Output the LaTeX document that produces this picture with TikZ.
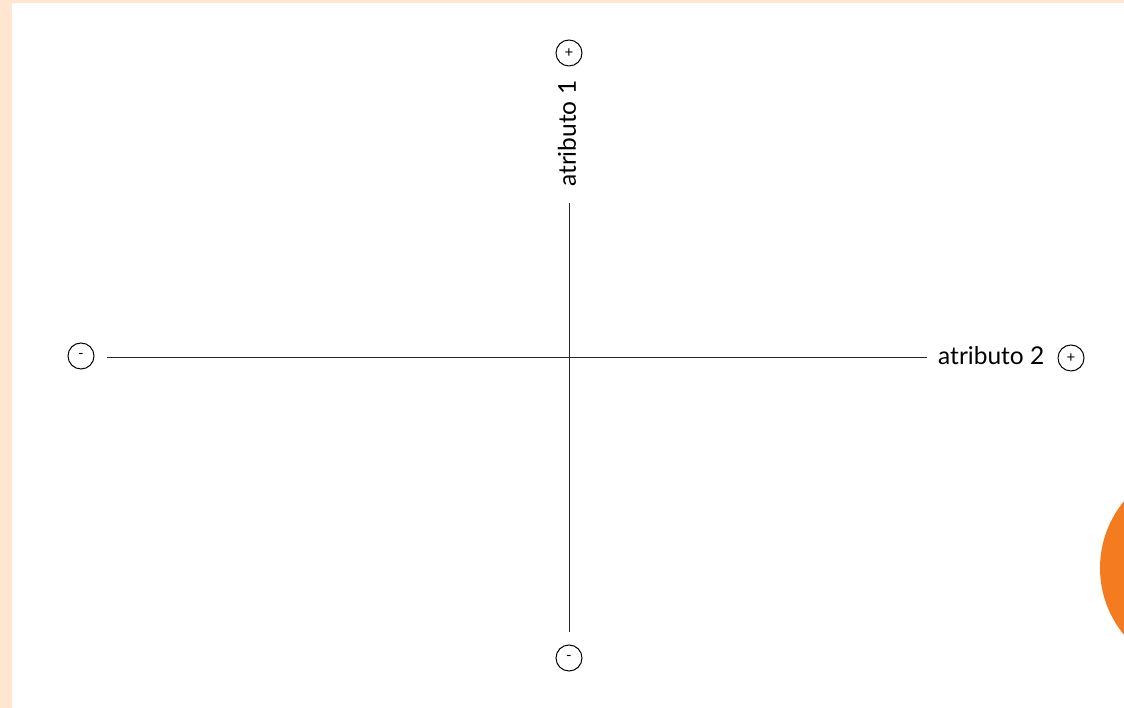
\documentclass[tikz,border=0pt]{standalone}
\usepackage{fontspec}
\setmainfont{Lato}
\definecolor{peach}{HTML}{FFE6D0}
\definecolor{orng}{HTML}{F47B20}
\begin{document}
\begin{tikzpicture}[x=1pt,y=1pt,
  axis/.style={line width=1pt, black!85},
  sign/.style={circle, draw, line width=1pt, minimum size=26pt, inner sep=0pt, font=\fontsize{15}{15}\selectfont},
  lbl/.style={font=\fontsize{24.5}{24.5}\selectfont, inner sep=0pt}]
\useasboundingbox (0,0) rectangle (1124,708);
\fill[white] (0,0) rectangle (1124,708);
\fill[peach] (0,0) rectangle (12,708);
\fill[peach] (0,705) rectangle (1124,708);
\fill[orng] (1205,140) circle (105);
\coordinate (L) at (107,350);
\coordinate (R) at (927,350);
\coordinate (T) at (569,505);
\coordinate (B) at (569,76);
\draw[axis] (L) -- (R);
\draw[axis] (T) -- (B);
\node[sign] (sl) at (81,352) {-};
\node[sign] (sr) at (1071,350) {+};
\node[sign] (st) at (569,655) {+};
\node[sign] (sb) at (569,50) {-};
\node[lbl, anchor=west] (a2) at (938,352) {atributo 2};
\node[lbl, rotate=90, anchor=west] (a1) at (567,521) {atributo 1};
\end{tikzpicture}
\end{document}
